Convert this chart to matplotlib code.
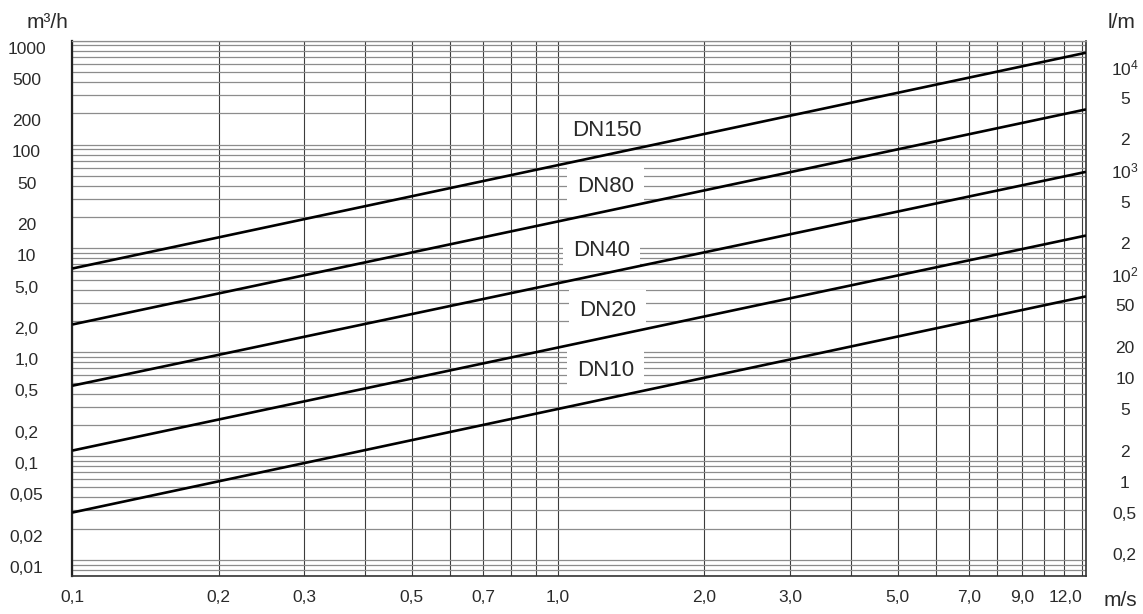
import matplotlib
matplotlib.use("Agg")
import matplotlib.pyplot as plt
import matplotlib.ticker as mticker
import matplotlib.transforms as mtransforms

# flow lines, read at the left (0.1 m/s) and right (~12.2 m/s) edge of the chart, in m3/h
velocity = [0.1, 12.2]
dn150_flow = [6.4, 766]
dn80_flow = [1.85, 218]
dn40_flow = [0.476, 54.6]
dn20_flow = [0.113, 13.3]
dn10_flow = [0.0286, 3.45]
series_names = ["DN150", "DN80", "DN40", "DN20", "DN10"]

x_ticks = [0.1, 0.2, 0.3, 0.5, 0.7, 1.0, 2.0, 3.0, 5.0, 7.0, 9.0, 12.0]
x_labels = ["0,1", "0,2", "0,3", "0,5", "0,7", "1,0", "2,0", "3,0", "5,0", "7,0", "9,0", "12,0"]
y_ticks = [1000, 500, 200, 100, 50, 20, 10, 5, 2, 1, 0.5, 0.2, 0.1, 0.05, 0.02, 0.01]
y_labels = ["1000", "500", "200", "100", "50", "20", "10", "5,0", "2,0", "1,0",
            "0,5", "0,2", "0,1", "0,05", "0,02", "0,01"]
lm_ticks = [1e4, 5000, 2000, 1000, 500, 200, 100, 50, 20, 10, 5, 2, 1, 0.5, 0.2]
lm_labels = [r"$\mathregular{10^4}$", "5", "2", r"$\mathregular{10^3}$", "5", "2",
             r"$\mathregular{10^2}$", "50", "20", "10", "5", "2", "1", "0,5", "0,2"]

plt.rcParams["font.family"] = ["Liberation Sans", "DejaVu Sans"]
TXT = "#2a2a2a"


def main():
    fig = plt.figure(figsize=(11.43, 6.14), dpi=100)
    ax = fig.add_axes([0.0633, 0.0619, 0.8868, 0.8718])
    ax.set_xscale("log")
    ax.set_yscale("log")
    ax.set_xlim(0.1, 12.2)
    ax.set_ylim(0.007, 1000)

    # grid: every 1..9 x 10^k on both axes (plus 11, 12 m/s)
    x_grid = [k * 10.0 ** e for e in (-1, 0) for k in range(1, 10)] + [10, 11, 12]
    y_grid = [k * 10.0 ** e for e in range(-3, 3) for k in range(1, 10)] + [1000]
    ax.xaxis.set_minor_locator(mticker.FixedLocator(x_grid))
    ax.yaxis.set_minor_locator(mticker.FixedLocator(y_grid))
    ax.xaxis.set_minor_formatter(mticker.NullFormatter())
    ax.yaxis.set_minor_formatter(mticker.NullFormatter())
    ax.xaxis.grid(True, which="both", color="#3c3c3c", lw=0.8)
    ax.yaxis.grid(True, which="both", color="#8c8c8c", lw=0.9)
    ax.set_axisbelow(True)

    flows = [dn150_flow, dn80_flow, dn40_flow, dn20_flow, dn10_flow]
    for flow in flows:
        ax.plot(velocity, flow, color="black", lw=1.9, solid_capstyle="butt", zorder=4)

    # curve labels; all but DN150 sit on a white patch over the grid
    label_pos = [(1.262, 138), (1.25, 39.8), (1.23, 9.5), (1.266, 2.5), (1.25, 0.66)]
    for i, (name, (lx, ly)) in enumerate(zip(series_names, label_pos)):
        box = None if i == 0 else dict(boxstyle="square,pad=0.45", fc="white", ec="none")
        ax.text(lx, ly, name, fontsize=16, color=TXT, ha="center", va="center", zorder=3, bbox=box)

    # x ticks
    ax.set_xticks(x_ticks, labels=x_labels)
    ax.tick_params(axis="x", which="both", length=0, pad=10, labelsize=12.5, labelcolor=TXT)
    ax.get_xticklabels()[-1].set_ha("right")

    # left y ticks (labels sit a little below their lines)
    ax.set_yticks(y_ticks, labels=y_labels)
    ax.tick_params(axis="y", which="both", length=0, pad=33, labelsize=12.5, labelcolor=TXT)
    down = mtransforms.ScaledTranslation(0, -5 / 72, fig.dpi_scale_trans)
    for lbl in ax.get_yticklabels():
        lbl.set_ha("center")
        lbl.set_transform(lbl.get_transform() + down)

    # right axis in l/min
    sec = ax.secondary_yaxis("right", functions=(lambda q: q * 1000 / 60, lambda l: l * 60 / 1000))
    sec.set_yticks(lm_ticks, labels=lm_labels)
    sec.yaxis.set_minor_locator(mticker.NullLocator())
    sec.tick_params(axis="y", which="both", length=0, pad=28, labelsize=12.5, labelcolor=TXT)
    sec.spines["right"].set_visible(False)
    down2 = mtransforms.ScaledTranslation(0, -2 / 72, fig.dpi_scale_trans)
    for lbl in sec.get_yticklabels():
        lbl.set_ha("center")
        lbl.set_transform(lbl.get_transform() + down2)

    ax.spines["left"].set_linewidth(1.6)
    ax.spines["left"].set_color("#222222")
    ax.spines["bottom"].set_linewidth(1.2)
    ax.spines["bottom"].set_color("#333333")
    ax.spines["right"].set_linewidth(1.2)
    ax.spines["right"].set_color("#333333")
    ax.spines["top"].set_linewidth(0.9)
    ax.spines["top"].set_color("#8c8c8c")

    # unit labels
    fig.text(48 / 1143, 1 - 23 / 614, "m³/h", fontsize=15, color=TXT, ha="center", va="center")
    fig.text(1122 / 1143, 1 - 22 / 614, "l/m", fontsize=15, color=TXT, ha="center", va="center")
    fig.text(1120 / 1143, 1 - 601 / 614, "m/s", fontsize=15, color=TXT, ha="center", va="center")

    fig.savefig("out.png", dpi=100)


if __name__ == "__main__":
    main()
